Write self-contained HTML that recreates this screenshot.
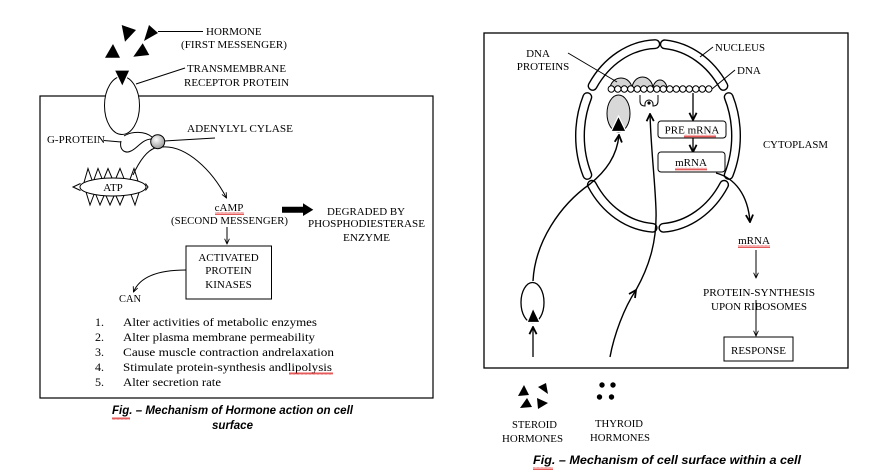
<!DOCTYPE html>
<html><head><meta charset="utf-8">
<style>
html,body{margin:0;padding:0;background:#fff;}
svg{display:block;}
text{font-family:"Liberation Serif",serif;font-size:11px;fill:#000;}
.l{font-size:12px;}
.cap{font-family:"Liberation Sans",sans-serif;font-weight:bold;font-style:italic;font-size:11.5px;}
</style></head><body>
<svg width="880" height="474" viewBox="0 0 880 474" xmlns="http://www.w3.org/2000/svg">
<defs>
<marker id="a" viewBox="0 0 8 8" refX="7.5" refY="4" markerUnits="userSpaceOnUse" markerWidth="6" markerHeight="6" orient="auto"><path d="M0.5,0.8 L7.5,4 L0.5,7.2" fill="none" stroke="#000" stroke-width="1.2"/></marker>
<marker id="b" viewBox="0 0 10 10" refX="9" refY="5" markerUnits="userSpaceOnUse" markerWidth="9" markerHeight="9" orient="auto"><path d="M1,1 L9,5 L1,9" fill="none" stroke="#000" stroke-width="2"/></marker>
<radialGradient id="g" cx="0.4" cy="0.35" r="0.75"><stop offset="0" stop-color="#fff"/><stop offset="1" stop-color="#8a8a8a"/></radialGradient>
<pattern id="sq" width="4" height="3" patternUnits="userSpaceOnUse"><polyline points="0,2.5 1,0.5 2,2.5 3,0.5 4,2.5" fill="none" stroke="#d22" stroke-width="0.7"/></pattern>
</defs>

<!-- ================= LEFT DIAGRAM ================= -->
<rect x="40" y="96" width="393" height="302" fill="none" stroke="#000" stroke-width="1.2"/>

<polygon points="121.7,25 136,30 125,41.7" fill="#000"/>
<polygon points="144,41 149,25 158,33" fill="#000"/>
<polygon points="105,57.7 113,44 120,57.7" fill="#000"/>
<polygon points="133.3,56.7 142.7,43.3 149.3,55" fill="#000"/>
<line x1="158" y1="31.5" x2="203" y2="31.5" stroke="#000" stroke-width="1"/>
<text x="206" y="35">HORMONE</text>
<text x="181" y="48" textLength="106" lengthAdjust="spacingAndGlyphs">(FIRST MESSENGER)</text>

<ellipse cx="122" cy="105.5" rx="17.5" ry="29" fill="#fff" stroke="#000" stroke-width="1"/>
<polygon points="114.3,70 130,70 122.3,86.7" fill="#000" stroke="#fff" stroke-width="1.2"/>
<line x1="185" y1="68" x2="136" y2="84" stroke="#000" stroke-width="1"/>
<text x="187" y="72" textLength="99" lengthAdjust="spacingAndGlyphs">TRANSMEMBRANE</text>
<text x="184" y="86" textLength="105" lengthAdjust="spacingAndGlyphs">RECEPTOR PROTEIN</text>

<path d="M124,136 C132,131 145,131 152,137" fill="none" stroke="#000" stroke-width="1"/>
<path d="M121,141 C119,150 125,154 131,151 C138,148 141,140 151,139" fill="none" stroke="#000" stroke-width="1"/>
<line x1="104" y1="140.5" x2="121" y2="142" stroke="#000" stroke-width="1"/>
<text x="47" y="143" textLength="58" lengthAdjust="spacingAndGlyphs">G-PROTEIN</text>
<line x1="164" y1="141" x2="215" y2="138" stroke="#000" stroke-width="1"/>
<circle cx="157.7" cy="141.7" r="7" fill="url(#g)" stroke="#000" stroke-width="1"/>
<text x="187" y="132" textLength="106" lengthAdjust="spacingAndGlyphs">ADENYLYL CYLASE</text>

<path d="M162,147 C186,145 212,170 226.5,198" fill="none" stroke="#000" stroke-width="1" marker-end="url(#a)"/>
<path d="M133,175 C139,162 146,151 155,148" fill="none" stroke="#000" stroke-width="1"/>

<g fill="#fff" stroke="#000" stroke-width="1">
<ellipse cx="113" cy="187" rx="33" ry="9"/>
<polyline points="80.5,183.5 73,187 80.5,190.5" fill="none"/>
<polyline points="145.5,183.5 148,187 145.5,190.5" fill="none"/>
<polyline points="84,182.5 88,168.5 92,180" fill="none"/>
<polyline points="94,179.5 98,168.5 102,178.5" fill="none"/>
<polyline points="104,178.3 108,168.5 112,178" fill="none"/>
<polyline points="116,178 120,168.5 124,178.5" fill="none"/>
<polyline points="130,179.3 134,168.5 138,181" fill="none"/>
<polyline points="86,192 90,205 94,194.5" fill="none"/>
<polyline points="96,195 100,205 104,195.7" fill="none"/>
<polyline points="106,195.8 110,205 114,196" fill="none"/>
<polyline points="116,196 120,205 124,195.5" fill="none"/>
<polyline points="131,194.5 135,205 139,192.5" fill="none"/>
</g>
<text x="113" y="191" text-anchor="middle">ATP</text>

<text x="229" y="211" text-anchor="middle">cAMP</text>
<rect x="215" y="212" width="29" height="3" fill="url(#sq)"/>
<text x="171" y="224" textLength="117" lengthAdjust="spacingAndGlyphs">(SECOND MESSENGER)</text>
<line x1="227" y1="227" x2="227" y2="244" stroke="#000" stroke-width="1" marker-end="url(#a)"/>
<polygon points="282,206.8 303,206.8 303,203.3 313.3,209.8 303,216 303,212.7 282,212.7" fill="#000"/>
<text x="327" y="215" textLength="78" lengthAdjust="spacingAndGlyphs">DEGRADED BY</text>
<text x="308" y="227" textLength="117" lengthAdjust="spacingAndGlyphs">PHOSPHODIESTERASE</text>
<text x="343" y="241" textLength="47" lengthAdjust="spacingAndGlyphs">ENZYME</text>

<rect x="186" y="246" width="85.5" height="53" fill="none" stroke="#000" stroke-width="1"/>
<text x="228.5" y="261" text-anchor="middle">ACTIVATED</text>
<text x="228.5" y="274" text-anchor="middle">PROTEIN</text>
<text x="228.5" y="288" text-anchor="middle">KINASES</text>
<path d="M186,270 C160,270 140,276 133.5,292" fill="none" stroke="#000" stroke-width="1" marker-end="url(#a)"/>
<text x="119" y="302" textLength="22" lengthAdjust="spacingAndGlyphs">CAN</text>

<text class="l" x="95" y="326">1.</text>
<text class="l" x="95" y="341">2.</text>
<text class="l" x="95" y="356">3.</text>
<text class="l" x="95" y="371">4.</text>
<text class="l" x="95" y="386">5.</text>
<text class="l" x="123" y="326" textLength="194" lengthAdjust="spacingAndGlyphs">Alter activities of metabolic enzymes</text>
<text class="l" x="123" y="341" textLength="192" lengthAdjust="spacingAndGlyphs">Alter plasma membrane permeability</text>
<text class="l" x="123" y="356" textLength="211" lengthAdjust="spacingAndGlyphs">Cause muscle contraction andrelaxation</text>
<text class="l" x="123" y="371" textLength="209" lengthAdjust="spacingAndGlyphs">Stimulate protein-synthesis andlipolysis</text>
<text class="l" x="123" y="386" textLength="98" lengthAdjust="spacingAndGlyphs">Alter secretion rate</text>
<rect x="289" y="372" width="44" height="3" fill="url(#sq)"/>

<text class="cap" x="112" y="414" textLength="241" lengthAdjust="spacingAndGlyphs">Fig. – Mechanism of Hormone action on cell</text>
<text class="cap" x="212" y="429" textLength="41" lengthAdjust="spacingAndGlyphs">surface</text>
<rect x="112" y="417" width="18" height="3" fill="url(#sq)"/>

<!-- ================= RIGHT DIAGRAM ================= -->
<rect x="484" y="33" width="364" height="335" fill="none" stroke="#000" stroke-width="1.3"/>

<g fill="none" stroke-linecap="round">
<g stroke="#000" stroke-width="10">
<path d="M592.6,85.9 A78,92 0 0 1 655.3,44.1"/>
<path d="M664.8,44.3 A78,92 0 0 1 723.4,85.9"/>
<path d="M728.7,97.1 A78,92 0 0 1 728.7,174.9"/>
<path d="M724.1,184.8 A78,92 0 0 1 663.4,227.8"/>
<path d="M652.6,227.8 A78,92 0 0 1 591.9,184.8"/>
<path d="M587.3,174.9 A78,92 0 0 1 587.3,97.1"/>
</g>
<g stroke="#fff" stroke-width="7.2">
<path d="M592.6,85.9 A78,92 0 0 1 655.3,44.1"/>
<path d="M664.8,44.3 A78,92 0 0 1 723.4,85.9"/>
<path d="M728.7,97.1 A78,92 0 0 1 728.7,174.9"/>
<path d="M724.1,184.8 A78,92 0 0 1 663.4,227.8"/>
<path d="M652.6,227.8 A78,92 0 0 1 591.9,184.8"/>
<path d="M587.3,174.9 A78,92 0 0 1 587.3,97.1"/>
</g>
</g>

<g fill="#d4d4d4" stroke="#000" stroke-width="1">
<path d="M610,89 A11,11 0 0 1 632,89 Z"/>
<path d="M632,89 A10.5,12 0 0 1 653,89 Z"/>
<path d="M653,89 A7,9 0 0 1 667,89 Z"/>
</g>
<g fill="#fff" stroke="#000" stroke-width="1">
<circle cx="611.3" cy="89" r="3.2"/><circle cx="617.8" cy="89" r="3.2"/><circle cx="624.3" cy="89" r="3.2"/><circle cx="630.8" cy="89" r="3.2"/>
<circle cx="637.3" cy="89" r="3.2"/><circle cx="643.8" cy="89" r="3.2"/><circle cx="650.3" cy="89" r="3.2"/><circle cx="656.8" cy="89" r="3.2"/>
<circle cx="663.3" cy="89" r="3.2"/><circle cx="669.8" cy="89" r="3.2"/><circle cx="676.3" cy="89" r="3.2"/><circle cx="682.8" cy="89" r="3.2"/>
<circle cx="689.3" cy="89" r="3.2"/><circle cx="695.8" cy="89" r="3.2"/><circle cx="702.3" cy="89" r="3.2"/><circle cx="708.8" cy="89" r="3.2"/>
</g>

<ellipse cx="618.5" cy="113.5" rx="11.5" ry="18.5" fill="#d8d8d8" stroke="#000" stroke-width="1"/>
<polygon points="611,131.5 618.5,116 626,131.5" fill="#000" stroke="#fff" stroke-width="1.2"/>
<path d="M640,95 L640,101 Q640,106 645,106 L645,104 A4,4 0 0 1 653,104 L653,106 Q658,106 658,101 L658,95" fill="#fff" stroke="#000" stroke-width="1"/>
<circle cx="649" cy="103" r="1.6" fill="#000"/>

<text x="715" y="51" textLength="50" lengthAdjust="spacingAndGlyphs">NUCLEUS</text>
<line x1="713" y1="47" x2="700" y2="57" stroke="#000" stroke-width="1"/>
<text x="737" y="74">DNA</text>
<line x1="735" y1="70" x2="712" y2="89" stroke="#000" stroke-width="1"/>
<text x="538" y="57" text-anchor="middle">DNA</text>
<text x="543" y="70" text-anchor="middle">PROTEINS</text>
<line x1="568" y1="53" x2="617" y2="82" stroke="#000" stroke-width="1"/>
<text x="763" y="148" textLength="65" lengthAdjust="spacingAndGlyphs">CYTOPLASM</text>

<line x1="693" y1="93" x2="693" y2="120" stroke="#000" stroke-width="1.3" marker-end="url(#b)"/>
<rect x="658" y="121" width="68" height="17" rx="3" fill="#fff" stroke="#000" stroke-width="1"/>
<text x="692" y="133.5" text-anchor="middle">PRE mRNA</text>
<rect x="684" y="134.5" width="32" height="3" fill="url(#sq)"/>
<line x1="693" y1="138" x2="693" y2="152" stroke="#000" stroke-width="1.3" marker-end="url(#b)"/>
<rect x="658" y="152" width="67" height="20" rx="3" fill="#fff" stroke="#000" stroke-width="1"/>
<text x="691" y="166" text-anchor="middle">mRNA</text>
<rect x="675" y="167.5" width="32" height="3" fill="url(#sq)"/>
<path d="M716,173 C735,178 748,195 750,222" fill="none" stroke="#000" stroke-width="1.4" marker-end="url(#b)"/>

<text x="754" y="244" text-anchor="middle">mRNA</text>
<rect x="738" y="245" width="32" height="3" fill="url(#sq)"/>
<line x1="756" y1="250" x2="756" y2="278" stroke="#000" stroke-width="1" marker-end="url(#a)"/>
<text x="759" y="296" text-anchor="middle" textLength="112" lengthAdjust="spacingAndGlyphs">PROTEIN-SYNTHESIS</text>
<text x="759" y="310" text-anchor="middle" textLength="96" lengthAdjust="spacingAndGlyphs">UPON RIBOSOMES</text>
<line x1="756" y1="300" x2="756" y2="336" stroke="#000" stroke-width="1" marker-end="url(#a)"/>
<rect x="724" y="337" width="69" height="24" fill="#fff" stroke="#000" stroke-width="1"/>
<text x="758.5" y="354" text-anchor="middle" textLength="55" lengthAdjust="spacingAndGlyphs">RESPONSE</text>

<path d="M533,281 C535,242 560,205 590,184 C606,171 617,156 619,135" fill="none" stroke="#000" stroke-width="1.4" marker-end="url(#b)"/>
<ellipse cx="532.5" cy="302.5" rx="11.5" ry="20" fill="#fff" stroke="#000" stroke-width="1.3"/>
<polygon points="527,322.5 533,308 540,322.5" fill="#000" stroke="#fff" stroke-width="1.2"/>
<line x1="533" y1="357" x2="533" y2="327" stroke="#000" stroke-width="1.3" marker-end="url(#b)"/>

<path d="M610,357 C614,335 624,308 636,290" fill="none" stroke="#000" stroke-width="1.4" marker-end="url(#b)"/>
<path d="M636,290 C650,265 657,240 656,210 C655,180 651,150 650,114" fill="none" stroke="#000" stroke-width="1.4" marker-end="url(#b)"/>

<polygon points="518,396 524,385 529,395" fill="#000"/>
<polygon points="538,387 546,383 548,394" fill="#000"/>
<polygon points="520,408 527,398 532,407" fill="#000"/>
<polygon points="537,398 548,403 538,409" fill="#000"/>
<circle cx="602" cy="385" r="2.7" fill="#000"/>
<circle cx="613" cy="385" r="2.7" fill="#000"/>
<circle cx="599.5" cy="397" r="2.7" fill="#000"/>
<circle cx="611.5" cy="397" r="2.7" fill="#000"/>
<text x="512" y="428" textLength="45" lengthAdjust="spacingAndGlyphs">STEROID</text>
<text x="502" y="442" textLength="61" lengthAdjust="spacingAndGlyphs">HORMONES</text>
<text x="595" y="427" textLength="48" lengthAdjust="spacingAndGlyphs">THYROID</text>
<text x="590" y="441" textLength="60" lengthAdjust="spacingAndGlyphs">HORMONES</text>

<text class="cap" x="533" y="464" textLength="268" lengthAdjust="spacingAndGlyphs">Fig. – Mechanism of cell surface within a cell</text>
<rect x="533" y="467" width="20" height="3" fill="url(#sq)"/>
</svg>
</body></html>
